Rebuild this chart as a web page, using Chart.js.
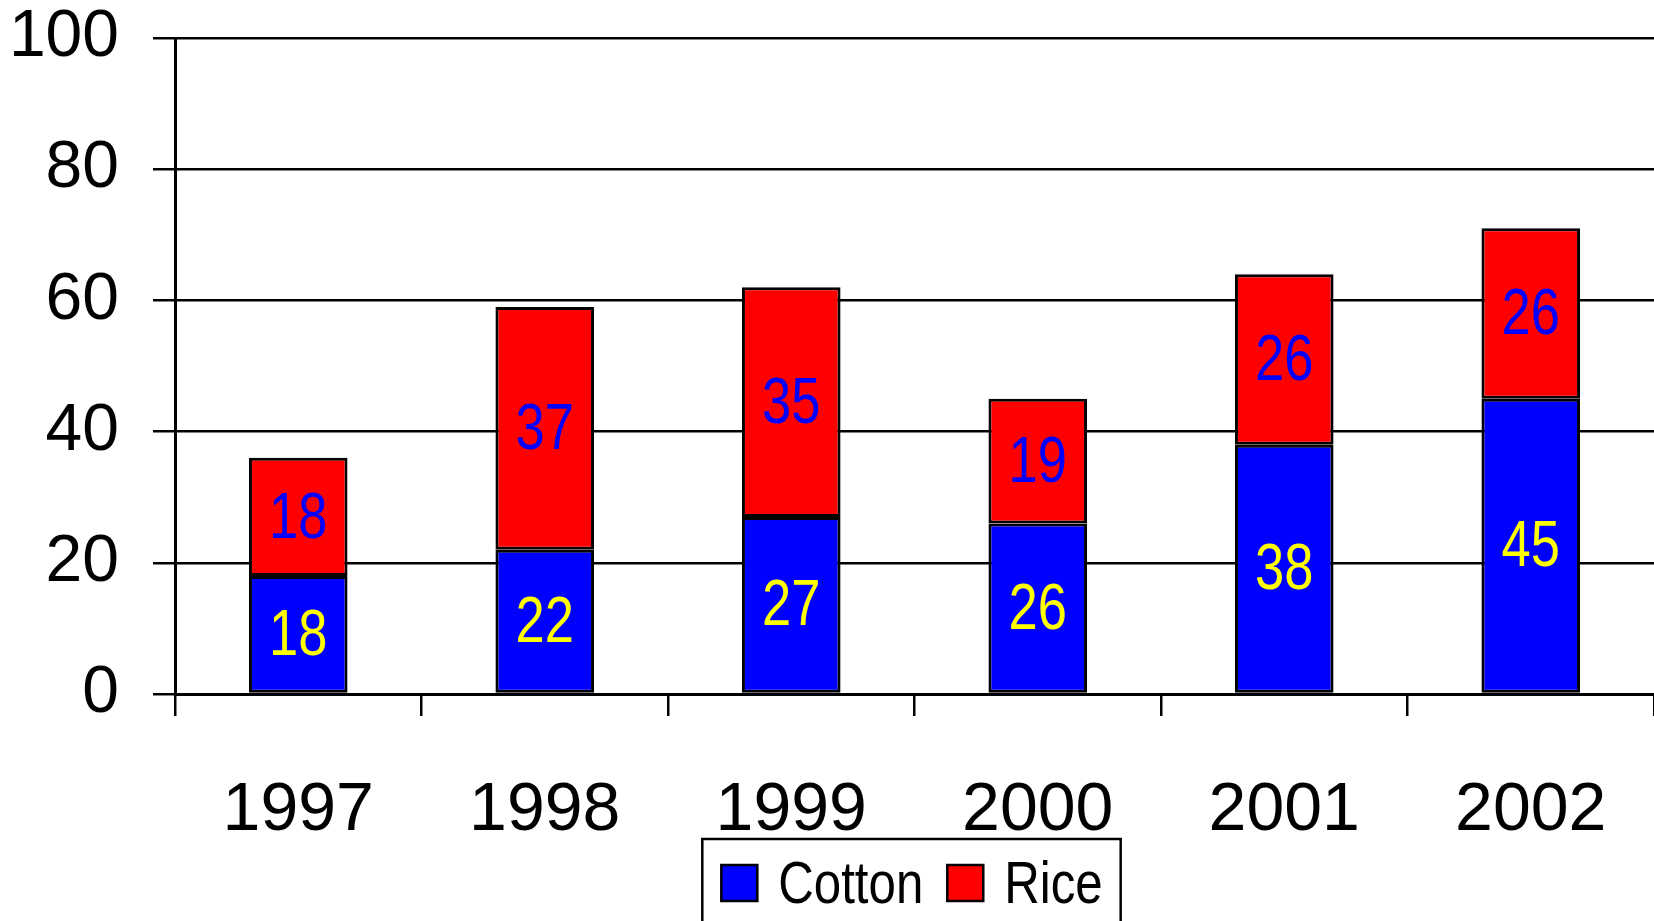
<!DOCTYPE html>
<html>
<head>
<meta charset="utf-8">
<script src="https://cdn.jsdelivr.net/npm/chart.js@4.4.1/dist/chart.umd.min.js"></script>
<style>
  html, body { margin: 0; padding: 0; background: #fff; }
  #wrap { width: 1654px; height: 921px; }
</style>
</head>
<body>
<div id="wrap"><canvas id="chart" width="1654" height="921"></canvas></div>
<script>
// data
const years = ["1997", "1998", "1999", "2000", "2001", "2002"];
const cotton = [18, 22, 27, 26, 38, 45];
const rice = [18, 37, 35, 19, 26, 26];
const yTicks = [0, 20, 40, 60, 80, 100];

const WIDE = '"Liberation Sans", Arial, sans-serif';
const SQUEEZE = 0.82; // fake a narrow face by scaling Liberation Sans

/* value labels inside the bars */
const barValues = {
  id: "barValues",
  afterDatasetsDraw(chart) {
    const ctx = chart.ctx;
    chart.data.datasets.forEach((ds, i) => {
      chart.getDatasetMeta(i).data.forEach((bar, j) => {
        const p = bar.getCenterPoint();
        ctx.save();
        ctx.translate(p.x, p.y + 3);
        ctx.scale(SQUEEZE, 1);
        ctx.font = "64px " + WIDE;
        ctx.textAlign = "center";
        ctx.textBaseline = "middle";
        ctx.fillStyle = ds.labelColor;
        ctx.fillText(ds.data[j], 0, 0);
        ctx.restore();
      });
    });
  }
};

/* boxed legend under the axis */
const boxLegend = {
  id: "boxLegend",
  afterDraw(chart) {
    const ctx = chart.ctx;
    const area = chart.chartArea;
    ctx.save();
    ctx.font = "60px " + WIDE;
    const sw = 36, gapText = 21, gapItem = 24, padL = 19, padR = 18;
    const items = chart.data.datasets.map(d => ({
      label: d.label, color: d.backgroundColor, w: ctx.measureText(d.label).width * SQUEEZE
    }));
    let total = padL + padR;
    items.forEach((it, i) => { total += sw + gapText + it.w + (i ? gapItem : 0); });
    const left = (area.left + area.right) / 2 - 3 - total / 2;
    const top = 839;
    ctx.lineWidth = 2.5;
    ctx.strokeStyle = "#000";
    ctx.strokeRect(left, top, total, 120);
    let x = left + padL;
    items.forEach((it, i) => {
      if (i) x += gapItem;
      ctx.fillStyle = it.color;
      ctx.fillRect(x, 865, sw, sw);
      ctx.strokeRect(x, 865, sw, sw);
      x += sw + gapText;
      ctx.save();
      ctx.translate(x, 903);
      ctx.scale(SQUEEZE, 1);
      ctx.fillStyle = "#000";
      ctx.textBaseline = "alphabetic";
      ctx.fillText(it.label, 0, 0);
      ctx.restore();
      x += it.w;
    });
    ctx.restore();
  }
};

new Chart(document.getElementById("chart"), {
  type: "bar",
  data: {
    labels: years,
    datasets: [
      { label: "Cotton", data: cotton, backgroundColor: "#0000ff", labelColor: "#ffff00",
        borderColor: "#000", borderWidth: 3, borderSkipped: false },
      { label: "Rice", data: rice, backgroundColor: "#ff0000", labelColor: "#0000ff",
        borderColor: "#000", borderWidth: 3, borderSkipped: false }
    ]
  },
  options: {
    responsive: false,
    animation: false,
    layout: { padding: 0 },
    datasets: { bar: { categoryPercentage: 0.4, barPercentage: 1 } },
    plugins: { legend: { display: false }, tooltip: { enabled: false } },
    scales: {
      x: {
        stacked: true,
        grid: { offset: true, drawOnChartArea: false, color: "#000", lineWidth: 2.5, tickLength: 22 },
        border: { color: "#000", width: 3 },
        ticks: { color: "#000", font: { family: WIDE, size: 68 }, padding: 54, maxRotation: 0 },
        afterFit: s => { s.height = 227; s.paddingLeft = 0; s.paddingRight = 0; }
      },
      y: {
        stacked: true,
        min: 0,
        max: 100,
        afterBuildTicks: s => { s.ticks = yTicks.map(v => ({ value: v })); },
        grid: { color: "#000", lineWidth: 2.5, tickLength: 22 },
        border: { color: "#000", width: 3 },
        ticks: { color: "#000", font: { family: WIDE, size: 66 }, padding: 34 },
        afterFit: s => { s.width = 175; s.paddingTop = 38; s.paddingBottom = 0; }
      }
    }
  },
  plugins: [barValues, boxLegend]
});
</script>
</body>
</html>
